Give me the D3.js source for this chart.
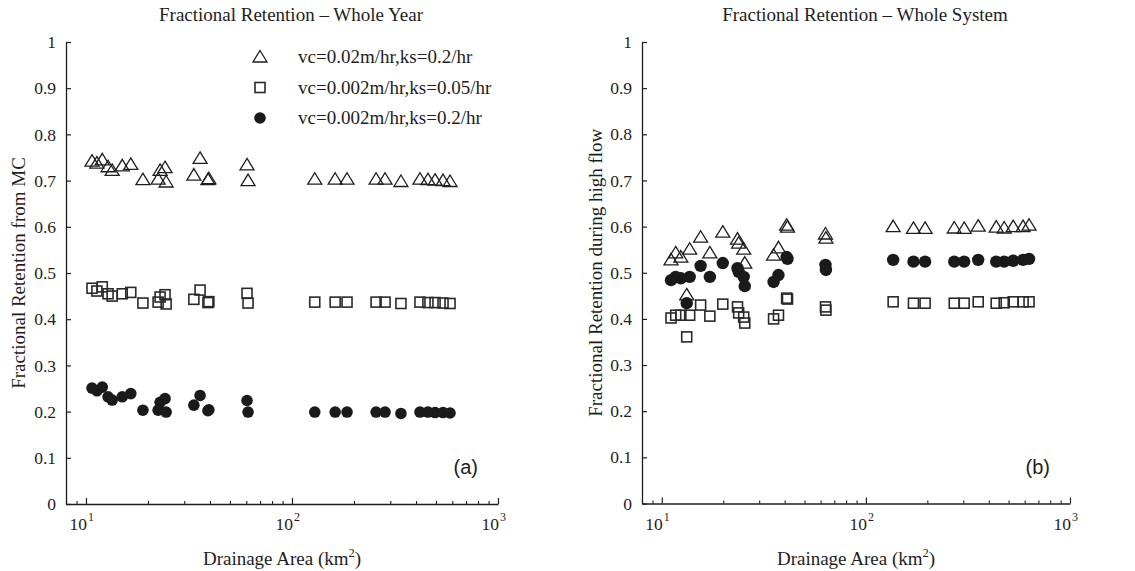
<!DOCTYPE html>
<html><head><meta charset="utf-8">
<script src="https://cdn.jsdelivr.net/npm/d3@7"></script>
<style>body{margin:0;background:#fff}</style>
</head><body>
<svg id="c" width="1135" height="571"></svg>
<script>
// ---- data ----
const seriesNames = ["vc=0.02m/hr,ks=0.2/hr", "vc=0.002m/hr,ks=0.05/hr", "vc=0.002m/hr,ks=0.2/hr"];
const yTicks = [0, 0.1, 0.2, 0.3, 0.4, 0.5, 0.6, 0.7, 0.8, 0.9, 1];
const yTickLabels = ["0", "0.1", "0.2", "0.3", "0.4", "0.5", "0.6", "0.7", "0.8", "0.9", "1"];
const xMajor = [10, 100, 1000];
const xMajorExp = ["1", "2", "3"];

// panel (a) Whole Year
const areaA = [10.7, 11.3, 12.0, 12.8, 13.4, 15.0, 16.5, 18.9, 22.4, 22.9, 24.2, 24.5, 33.4, 35.8, 39.1, 39.5, 60.5, 61.2,
               129, 162, 185, 256, 283, 338, 418, 457, 495, 541, 585];
const triA = [0.742, 0.738, 0.745, 0.730, 0.722, 0.732, 0.735, 0.702, 0.703, 0.722, 0.728, 0.697, 0.712, 0.748, 0.702, 0.704, 0.734, 0.700,
              0.703, 0.703, 0.703, 0.703, 0.703, 0.698, 0.703, 0.702, 0.701, 0.700, 0.698];
const sqA  = [0.467, 0.461, 0.470, 0.455, 0.450, 0.455, 0.458, 0.435, 0.437, 0.448, 0.453, 0.433, 0.443, 0.463, 0.436, 0.438, 0.456, 0.435,
              0.437, 0.437, 0.437, 0.437, 0.437, 0.434, 0.437, 0.436, 0.436, 0.435, 0.434];
const dotA = [0.251, 0.245, 0.253, 0.232, 0.225, 0.232, 0.239, 0.203, 0.203, 0.220, 0.228, 0.199, 0.214, 0.235, 0.202, 0.204, 0.224, 0.199,
              0.199, 0.199, 0.199, 0.199, 0.199, 0.196, 0.199, 0.199, 0.198, 0.198, 0.197];

// panel (b) Whole System
const areaB = [11.1, 11.7, 12.4, 13.25, 13.7, 15.5, 17.2, 19.9, 23.5, 23.8, 25.2, 25.5, 35.3, 37.3, 40.9, 41.3, 63.4, 63.7,
               136, 171, 195, 271, 303, 355, 435, 476, 527, 589, 630];
const triB = [0.528, 0.543, 0.534, 0.452, 0.551, 0.577, 0.543, 0.588, 0.573, 0.564, 0.551, 0.521, 0.538, 0.554, 0.603, 0.599, 0.584, 0.575,
              0.600, 0.596, 0.596, 0.597, 0.596, 0.601, 0.599, 0.597, 0.600, 0.600, 0.603];
const sqB  = [0.402, 0.408, 0.408, 0.361, 0.408, 0.430, 0.406, 0.432, 0.426, 0.413, 0.404, 0.391, 0.400, 0.408, 0.445, 0.443, 0.426, 0.419,
              0.437, 0.434, 0.434, 0.434, 0.434, 0.437, 0.434, 0.435, 0.437, 0.437, 0.437];
const dotB = [0.484, 0.491, 0.488, 0.434, 0.491, 0.515, 0.491, 0.521, 0.510, 0.502, 0.491, 0.471, 0.480, 0.495, 0.534, 0.530, 0.517, 0.506,
              0.528, 0.524, 0.524, 0.524, 0.524, 0.528, 0.524, 0.524, 0.526, 0.528, 0.530];

// ---- drawing ----
const svg = d3.select("#c");
const SERIF = "'Liberation Serif','Times New Roman',serif";
const SANS = "'Liberation Sans',Arial,sans-serif";
const INK = "#1e1e1e";

const triPath = "M0,-6.5L7,5L-7,5Z";
function drawMarker(g, kind, cx, cy, big) {
  if (kind === 0) {
    g.append("path").attr("d", triPath).attr("transform", `translate(${cx},${cy})`)
      .attr("fill", "none").attr("stroke", INK).attr("stroke-width", 1.3).attr("stroke-linejoin", "miter");
  } else if (kind === 1) {
    const s = 10;
    g.append("rect").attr("x", cx - s/2).attr("y", cy - s/2).attr("width", s).attr("height", s)
      .attr("fill", "none").attr("stroke", "#2a2a2a").attr("stroke-width", 1.6);
  } else {
    g.append("circle").attr("cx", cx).attr("cy", cy).attr("r", big ? 6.2 : 5.8).attr("fill", "#1a1a1a");
  }
}

function panel(cfg) {
  const x = d3.scaleLog().domain([8, 1000]).range([cfg.x0, cfg.x1]);
  const y = d3.scaleLinear().domain([0, 1]).range([cfg.y0, cfg.y1]);
  const g = svg.append("g");

  // y axis
  const ya = g.append("g").attr("transform", `translate(${cfg.x0},0)`)
    .call(d3.axisLeft(y).tickValues(yTicks).tickSizeInner(-5).tickSizeOuter(0).tickPadding(10)
      .tickFormat((d, i) => yTickLabels[i]));
  ya.select(".domain").attr("stroke", INK).attr("stroke-width", 1.3);
  ya.selectAll(".tick line").attr("stroke", INK).attr("stroke-width", 1.2);
  ya.selectAll(".tick text").attr("font-family", SERIF).attr("font-size", 17.5).attr("fill", INK);

  // x axis major
  const xa = g.append("g").attr("transform", `translate(0,${cfg.y0})`)
    .call(d3.axisBottom(x).tickValues(xMajor).tickSizeInner(-6).tickSizeOuter(0).tickFormat(""));
  xa.select(".domain").attr("stroke", INK).attr("stroke-width", 1.3);
  xa.selectAll(".tick line").attr("stroke", INK).attr("stroke-width", 1.2);
  // minor ticks
  const minor = [8, 9, 20, 30, 40, 50, 60, 70, 80, 90, 200, 300, 400, 500, 600, 700, 800, 900];
  const xm = g.append("g").attr("transform", `translate(0,${cfg.y0})`)
    .call(d3.axisBottom(x).tickValues(minor).tickSizeInner(-3).tickSizeOuter(0).tickFormat(""));
  xm.select(".domain").remove();
  xm.selectAll(".tick line").attr("stroke", INK).attr("stroke-width", 1.1);

  // x tick labels 10^n
  xMajor.forEach((v, i) => {
    const px = x(v);
    g.append("text").attr("x", px + 1).attr("y", cfg.y0 + 26).attr("text-anchor", "end")
      .attr("font-family", SERIF).attr("font-size", 17.5).attr("fill", INK).text("10");
    g.append("text").attr("x", px + 2).attr("y", cfg.y0 + 17).attr("text-anchor", "start")
      .attr("font-family", SERIF).attr("font-size", 12).attr("fill", INK).text(xMajorExp[i]);
  });

  // x label
  const xl = g.append("text").attr("x", (cfg.x0 + cfg.x1) / 2).attr("y", cfg.y0 + 61).attr("text-anchor", "middle")
    .attr("font-family", SERIF).attr("font-size", 19).attr("fill", INK);
  xl.append("tspan").text("Drainage Area (km");
  xl.append("tspan").attr("dy", -8).attr("font-size", 12.5).text("2");
  xl.append("tspan").attr("dy", 8).text(")");

  // y label
  g.append("text").attr("transform", `translate(${cfg.ylabX},${(cfg.y0 + cfg.y1) / 2}) rotate(-90)`)
    .attr("text-anchor", "middle").attr("font-family", SERIF).attr("font-size", 19).attr("fill", INK)
    .text(cfg.ylabel);

  // title
  g.append("text").attr("x", (cfg.x0 + cfg.x1) / 2 + 9).attr("y", 21).attr("text-anchor", "middle")
    .attr("font-family", SERIF).attr("font-size", 19).attr("fill", INK).text(cfg.title);

  // panel letter
  g.append("text").attr("x", cfg.x1 - 20).attr("y", cfg.y0 - 30).attr("text-anchor", "end")
    .attr("font-family", SANS).attr("font-size", 20).attr("fill", INK).text(cfg.letter);

  // data
  const dg = g.append("g");
  cfg.series.forEach((vals, k) => {
    vals.forEach((v, i) => drawMarker(dg, k, x(cfg.area[i]), y(v), cfg.big));
  });
  return {x, y, g};
}

const pa = panel({x0: 66, x1: 498, y0: 504, y1: 42, area: areaA, series: [triA, sqA, dotA],
  title: "Fractional Retention \u2013 Whole Year", ylabel: "Fractional Retention from MC", ylabX: 25, letter: "(a)", big: false});
const pb = panel({x0: 642, x1: 1070, y0: 503.5, y1: 42, area: areaB, series: [triB, sqB, dotB],
  title: "Fractional Retention \u2013 Whole System", ylabel: "Fractional Retention during high flow", ylabX: 602, letter: "(b)", big: true});

// legend in panel (a)
const lg = svg.append("g");
seriesNames.forEach((name, k) => {
  const cy = 57 + k * 30.5;
  drawMarker(lg, k, 260, cy, false);
  lg.append("text").attr("x", 298).attr("y", cy + 6).attr("font-family", SERIF).attr("font-size", 19)
    .attr("fill", INK).text(name);
});
</script>
</body></html>
